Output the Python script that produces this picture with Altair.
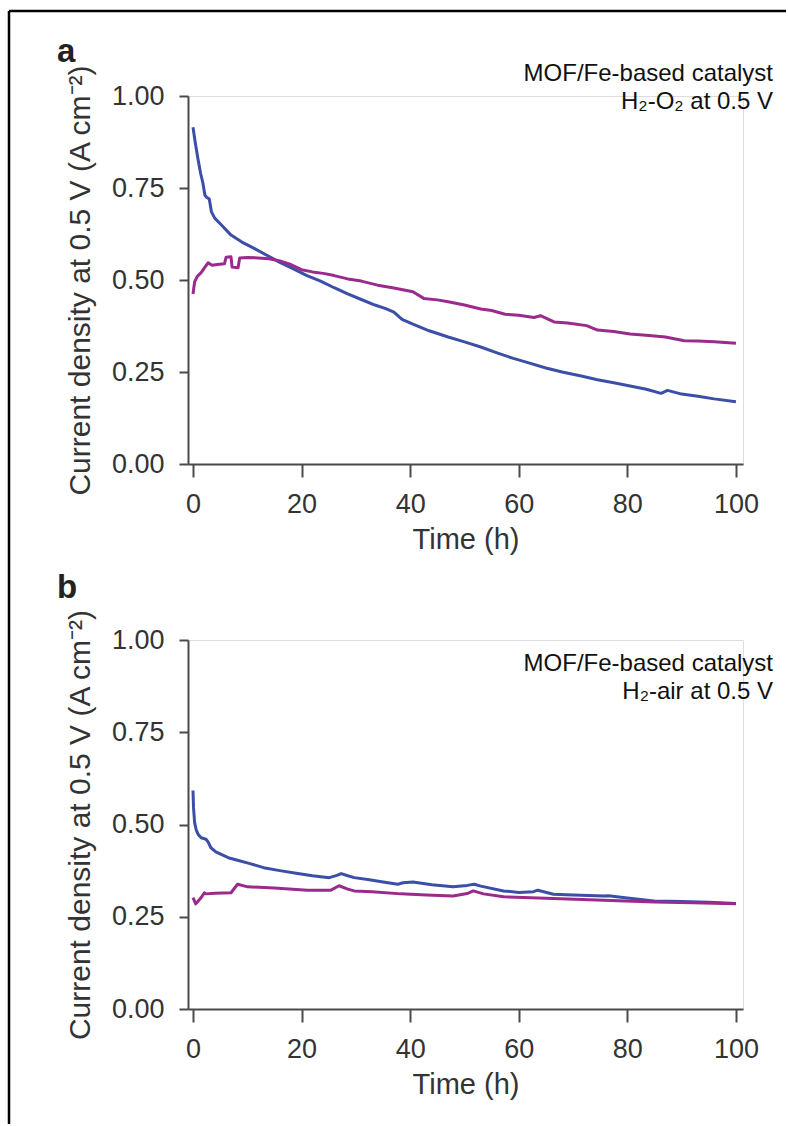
import altair as alt
import pandas as pd

# ---------------- data ----------------
a_blue_t = [0, 0.4, 0.9, 1.4, 1.8, 2.2, 2.5, 3.0, 3.4, 4.0, 5.2, 7.0, 9.0, 11.0, 13.5, 16.0, 18.5, 21.0, 23.5, 26.0,
            28.5, 31.0, 33.5, 35.5, 37.0, 38.5, 40.5, 43.5, 47.0, 50.0, 53.0, 56.0, 59.0, 62.0, 65.0, 68.0, 71.5,
            74.5, 77.5, 80.5, 83.5, 86.2, 87.4, 90.0, 93.0, 96.0, 100.0]
a_blue_v = [0.915, 0.875, 0.83, 0.79, 0.765, 0.73, 0.725, 0.72, 0.685, 0.668, 0.650, 0.622, 0.603, 0.588, 0.568,
            0.548, 0.530, 0.512, 0.497, 0.479, 0.462, 0.447, 0.432, 0.422, 0.413, 0.393, 0.380, 0.362, 0.345,
            0.332, 0.318, 0.302, 0.287, 0.274, 0.261, 0.250, 0.239, 0.229, 0.221, 0.212, 0.203, 0.192, 0.200,
            0.190, 0.184, 0.177, 0.169]

a_mag_t = [0, 0.3, 0.8, 1.5, 2.2, 2.8, 3.5, 4.5, 5.8, 6.1, 7.0, 7.2, 8.3, 8.6, 10.0, 12.0, 14.0, 16.0, 18.0, 20.0,
           22.0, 24.0, 26.0, 28.5, 31.0, 34.0, 37.0, 40.5, 42.5, 45.0, 47.0, 50.0, 53.0, 55.0, 57.5, 60.0, 62.8,
           64.0, 66.5, 69.0, 72.5, 74.5, 77.5, 80.5, 84.0, 87.0, 90.5, 93.0, 96.0, 100.0]
a_mag_v = [0.462, 0.495, 0.51, 0.52, 0.535, 0.547, 0.540, 0.542, 0.544, 0.562, 0.563, 0.535, 0.533, 0.560, 0.561,
           0.560, 0.558, 0.552, 0.542, 0.528, 0.522, 0.518, 0.512, 0.503, 0.497, 0.486, 0.478, 0.468, 0.450,
           0.446, 0.441, 0.432, 0.421, 0.417, 0.407, 0.404, 0.398, 0.403, 0.386, 0.383, 0.376, 0.364, 0.360,
           0.353, 0.349, 0.345, 0.335, 0.334, 0.332, 0.328]

b_blue_t = [0, 0.1, 0.3, 0.6, 1.0, 1.5, 2.4, 2.8, 3.3, 4.2, 5.2, 6.5, 8.2, 10.5, 13.0, 16.0, 19.3, 22.0, 25.1,
            26.5, 27.3, 28.5, 29.7, 32.5, 35.0, 37.7, 38.7, 40.5, 44.0, 47.9, 50.5, 51.8, 53.0, 57.2, 60.0, 62.7,
            63.5, 66.4, 70.0, 75.7, 76.5, 80.0, 84.9, 90.0, 95.0, 100.0]
b_blue_v = [0.592, 0.545, 0.505, 0.485, 0.472, 0.464, 0.460, 0.452, 0.437, 0.426, 0.419, 0.410, 0.403, 0.394,
            0.383, 0.375, 0.367, 0.361, 0.356, 0.362, 0.367, 0.361, 0.356, 0.350, 0.344, 0.338, 0.342, 0.344,
            0.337, 0.331, 0.335, 0.338, 0.333, 0.320, 0.316, 0.318, 0.322, 0.311, 0.309, 0.306, 0.307, 0.301,
            0.293, 0.291, 0.289, 0.286]

b_mag_t = [0, 0.5, 1.0, 1.5, 2.1, 2.4, 4.0, 7.0, 8.2, 10.1, 15.0, 21.1, 25.4, 26.9, 28.5, 29.7, 33.0, 38.3, 43.0,
           47.9, 50.5, 51.6, 53.5, 57.2, 65.0, 75.7, 85.0, 92.0, 100.0]
b_mag_v = [0.302, 0.285, 0.293, 0.302, 0.315, 0.312, 0.314, 0.315, 0.338, 0.331, 0.328, 0.322, 0.322, 0.334,
           0.325, 0.320, 0.318, 0.312, 0.309, 0.306, 0.313, 0.320, 0.312, 0.304, 0.300, 0.295, 0.290, 0.288,
           0.285]

x_ticks = [0, 20, 40, 60, 80, 100]
y_ticks = [0.0, 0.25, 0.5, 0.75, 1.0]
panel_letters = ["a", "b"]
note_line1 = ["MOF/Fe-based catalyst", "MOF/Fe-based catalyst"]
note_line2 = ["H\u2082-O\u2082 at 0.5 V", "H\u2082-air at 0.5 V"]
x_title = "Time (h)"
y_title = "Current density at 0.5 V (A cm\u207b\u00b2)"

BLUE = "#3b4ea8"
MAGENTA = "#9a2a8c"
AXIS = "#4a4a4a"
FONT = "Liberation Sans, Arial, Helvetica, sans-serif"

X_DOMAIN = [-0.92, 101.3]


def one(text):
    return pd.DataFrame({"s": [text]})


def panel(idx, bt, bv, mt, mv, height, letter_y, note_y1, note_y2, with_border):
    xenc = alt.X("t:Q", scale=alt.Scale(domain=X_DOMAIN, nice=False, zero=False),
                 axis=alt.Axis(values=x_ticks, format="d", title=x_title, grid=False,
                               domainColor=AXIS, domainWidth=2, tickColor=AXIS, tickWidth=2,
                               tickSize=13, labelFontSize=27, labelFont=FONT, labelColor="#333333",
                               labelPadding=14, titleFont=FONT, titleFontSize=29,
                               titleFontWeight="normal", titleColor="#333333", titlePadding=8))
    yenc = alt.Y("v:Q", scale=alt.Scale(domain=[0, 1], nice=False),
                 axis=alt.Axis(values=y_ticks, format=".2f", title=y_title, grid=False,
                               domainColor=AXIS, domainWidth=2, tickColor=AXIS, tickWidth=2,
                               tickSize=9, labelFontSize=27, labelFont=FONT, labelColor="#333333",
                               labelPadding=15, titleFont=FONT, titleFontSize=30,
                               titleFontWeight="normal", titleColor="#333333", titlePadding=16))
    blue = alt.Chart(pd.DataFrame({"t": bt, "v": bv})).mark_line(
        color=BLUE, strokeWidth=3, strokeJoin="round").encode(x=xenc, y=yenc)
    mag = alt.Chart(pd.DataFrame({"t": mt, "v": mv})).mark_line(
        color=MAGENTA, strokeWidth=3, strokeJoin="round").encode(x="t:Q", y="v:Q")
    letter = alt.Chart(one(panel_letters[idx])).mark_text(
        font=FONT, fontSize=33, fontWeight="bold", align="left", baseline="alphabetic",
        color="#222222").encode(x=alt.value(-131), y=alt.value(letter_y), text="s:N")
    n1 = alt.Chart(one(note_line1[idx])).mark_text(
        font=FONT, fontSize=24, align="right", baseline="alphabetic", color="#111111"
    ).encode(x=alt.value(585), y=alt.value(note_y1), text="s:N")
    n2 = alt.Chart(one(note_line2[idx])).mark_text(
        font=FONT, fontSize=24, align="right", baseline="alphabetic", color="#111111"
    ).encode(x=alt.value(585), y=alt.value(note_y2), text="s:N")
    layers = [blue, mag, letter, n1, n2]
    if with_border:
        left = alt.Chart(one("l")).mark_rule(color="black", strokeWidth=2.5).encode(
            x=alt.value(-179), y=alt.value(-85), y2=alt.value(1028))
        top = alt.Chart(one("t")).mark_rule(color="black", strokeWidth=2.5).encode(
            x=alt.value(-179), x2=alt.value(598), y=alt.value(-85))
        layers += [left, top]
    return alt.layer(*layers).properties(width=555, height=height)


top_panel = panel(0, a_blue_t, a_blue_v, a_mag_t, a_mag_v, 368, -34, -15, 13, True)
bottom_panel = panel(1, b_blue_t, b_blue_v, b_mag_t, b_mag_v, 369, -42, 31, 59, False)

chart = alt.vconcat(top_panel, bottom_panel, spacing=176, bounds="flush").properties(
    padding={"left": 7, "top": 9, "right": 0, "bottom": 0}
).configure_view(stroke=None).configure(background="white")

chart.save("out.html", embed_options={"renderer": "svg", "actions": False})
